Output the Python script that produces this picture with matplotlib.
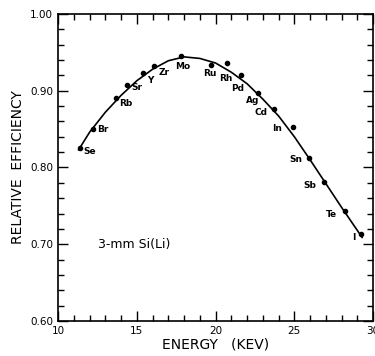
import numpy as np
import matplotlib.pyplot as plt
from matplotlib.ticker import MultipleLocator

# Measured points (energy in keV, relative efficiency)
elements = ["Se", "Br", "Rb", "Sr", "Y", "Zr", "Mo", "Ru", "Rh", "Pd",
            "Ag", "Cd", "In", "Sn", "Sb", "Te", "I"]
energy = [11.4, 12.2, 13.7, 14.4, 15.4, 16.1, 17.8, 19.7, 20.7, 21.6,
          22.7, 23.7, 24.9, 25.9, 26.9, 28.2, 29.2]
efficiency = [0.826, 0.850, 0.891, 0.908, 0.923, 0.932, 0.945, 0.934, 0.936, 0.920,
              0.897, 0.876, 0.853, 0.812, 0.781, 0.743, 0.713]

# Fitted curve
curve_e = [11.3, 12, 13, 14, 15, 16, 17, 18, 19, 20, 21, 22, 23, 24, 25, 26, 27, 28, 29, 29.3]
curve_eff = [0.823, 0.846, 0.872, 0.894, 0.913, 0.928, 0.939, 0.944, 0.942, 0.936,
             0.924, 0.909, 0.889, 0.867, 0.840, 0.810, 0.779, 0.748, 0.718, 0.709]

# label offsets in pixels (dx, dy, alignment)
offsets = {"Se": (3, -4, 'left'), "Br": (4, 0, 'left'), "Rb": (3, -6, 'left'),
           "Sr": (4, -3, 'left'), "Y": (4, -7, 'left'), "Zr": (4, -6, 'left'),
           "Mo": (2, -10, 'center'), "Ru": (-1, -9, 'center'), "Rh": (-1, -15, 'center'),
           "Pd": (-3, -13, 'center'), "Ag": (-6, -8, 'center'), "Cd": (-6, -3, 'right'),
           "In": (-11, -2, 'right'), "Sn": (-6, -1, 'right'), "Sb": (-8, -3, 'right'),
           "Te": (-8, -3, 'right'), "I": (-5, -3, 'right')}

plt.rcParams['font.family'] = 'DejaVu Sans'
fig = plt.figure(figsize=(3.75, 3.56), dpi=100)
ax = fig.add_axes([0.155, 0.098, 0.84, 0.863])

ax.plot(curve_e, curve_eff, color='black', lw=1.2)
ax.plot(energy, efficiency, 'o', color='black', ms=3)

for name, x, y in zip(elements, energy, efficiency):
    dx, dy, ha = offsets[name]
    ax.annotate(name, (x, y), xytext=(dx, dy), textcoords='offset pixels',
                ha=ha, va='center', fontsize=6.5, fontweight='bold')

ax.text(12.5, 0.70, "3-mm Si(Li)", fontsize=9, va='center')

ax.set_xlim(10, 30)
ax.set_ylim(0.60, 1.00)
ax.xaxis.set_major_locator(MultipleLocator(5))
ax.xaxis.set_minor_locator(MultipleLocator(1))
ax.yaxis.set_major_locator(MultipleLocator(0.1))
ax.yaxis.set_minor_locator(MultipleLocator(0.02))
ax.set_yticklabels(["%.2f" % v for v in ax.get_yticks()])
ax.tick_params(which='both', direction='in', top=True, right=True, labelsize=7.5, width=1)
ax.tick_params(which='major', length=7)
ax.tick_params(which='minor', length=4)
for s in ax.spines.values():
    s.set_linewidth(1.2)

ax.set_xlabel("ENERGY   (KEV)", fontsize=10, labelpad=1)
ax.set_ylabel("RELATIVE  EFFICIENCY", fontsize=10, labelpad=4)

fig.savefig("out.png", dpi=100)
